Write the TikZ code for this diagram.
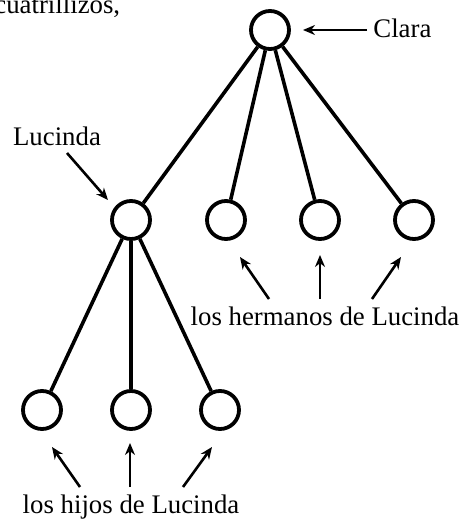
\documentclass[tikz,border=0pt]{standalone}
\usepackage{fontspec}
\setmainfont{Liberation Serif}
\usetikzlibrary{arrows.meta, positioning}

\begin{document}
\begin{tikzpicture}[x=0.5pt,y=-0.5pt,
	persona/.style={circle,draw,line width=1.9pt,minimum size=19pt,inner sep=0pt},
	rama/.style={line width=1.8pt},
	flecha/.style={-{Stealth[length=6pt,width=5pt]},line width=1.3pt},
	etiqueta/.style={font=\fontsize{13.4}{16}\selectfont,inner sep=0pt}]
					\useasboundingbox (0,0) rectangle (469,520);
					% texto cortado de arriba
					\node[etiqueta,anchor=base west] (cuatri) at (-6,13) {cuatrillizos,};
					% personas
					\node[persona] (clara) at (270,30) {};
					\node[persona] (lucinda) at (131,220) {};
					\node[persona] (herm1) at (226,220) {};
					\node[persona] (herm2) at (320,220) {};
					\node[persona] (herm3) at (414,220) {};
					\node[persona] (hijo1) at (42,410) {};
					\node[persona] (hijo2) at (131,410) {};
					\node[persona] (hijo3) at (220,410) {};
					\draw[rama] (clara) to (lucinda);
					\draw[rama] (clara) to (herm1);
					\draw[rama] (clara) to (herm2);
					\draw[rama] (clara) to (herm3);
					\draw[rama] (lucinda) to (hijo1);
					\draw[rama] (lucinda) to (hijo2);
					\draw[rama] (lucinda) to (hijo3);
					% etiquetas
					\node[etiqueta,anchor=base west] (tclara) at (373,37) {Clara};
					\node[etiqueta,anchor=base] (tlucinda) at (57,145) {Lucinda};
					\node[etiqueta,anchor=base] (therm) at (325,325) {los hermanos de Lucinda};
					\node[etiqueta,anchor=base] (thijos) at (131,513) {los hijos de Lucinda};
					\coordinate (c0) at (367,30);
					\coordinate (c1) at (303,30);
					\coordinate (l0) at (67,153);
					\coordinate (l1) at (108,200);
					\coordinate (h0) at (269,299);
					\coordinate (h1) at (240,257);
					\coordinate (h2) at (320,299);
					\coordinate (h3) at (320,255);
					\coordinate (h4) at (372,299);
					\coordinate (h5) at (401,257);
					\coordinate (j0) at (80,487);
					\coordinate (j1) at (52,447);
					\coordinate (j2) at (130,487);
					\coordinate (j3) at (130,443);
					\coordinate (j4) at (183,487);
					\coordinate (j5) at (212,447);
					\draw[flecha] (c0) to (c1);
					\draw[flecha] (l0) to (l1);
					\draw[flecha] (h0) to (h1);
					\draw[flecha] (h2) to (h3);
					\draw[flecha] (h4) to (h5);
					\draw[flecha] (j0) to (j1);
					\draw[flecha] (j2) to (j3);
					\draw[flecha] (j4) to (j5);
\end{tikzpicture}
\end{document}
